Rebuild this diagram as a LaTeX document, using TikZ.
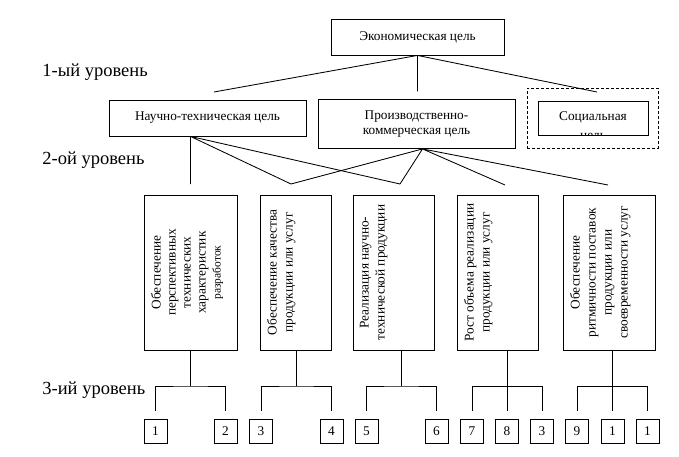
\documentclass[tikz,border=0pt]{standalone}
\usepackage{fontspec}
\setmainfont{Liberation Serif}
\usetikzlibrary{calc}

\newcommand{\boxfont}{\fontsize{13.3}{15}\selectfont}
\newcommand{\levelfont}{\fontsize{18.5}{22}\selectfont}

\tikzset{
  goal/.style={draw, inner sep=2pt, align=center, font=\boxfont},
  task/.style={draw, minimum height=155},
  vlabel/.style={rotate=90, anchor=north, align=center, inner sep=3pt, font=\fontsize{13.3}{16}\selectfont},
  num/.style={draw, minimum width=23, minimum height=24, inner sep=0pt, font=\boxfont},
  level/.style={anchor=west, inner sep=0pt, font=\levelfont}
}

\begin{document}
\begin{tikzpicture}[x=1pt, y=-1pt, line width=0.85pt]
  \useasboundingbox (0,0) rectangle (679,457);
  % Levels
  \node[level] (lev1) at (42,72) {1-ый уровень};
  \node[level] (lev2) at (42,160) {2-ой уровень};
  \node[level] (lev3) at (42,390) {3-ий уровень};
  % Main goal and goals of the first level
  \node[goal, minimum width=173, minimum height=36] (econ) at (417.5,37) {Экономическая цель};
  \node[goal, minimum width=197, minimum height=36] (sci) at (207.5,118) {Научно-техническая цель};
  \node[goal, minimum width=197, minimum height=49] (prod) at (416.5,124) {Производственно-\\коммерческая цель};
  \node[draw, dash pattern=on 3pt off 2pt, minimum width=131, minimum height=60] (socframe) at (592.5,118) {};
  \node[goal, minimum width=110, minimum height=34] (soc) at (593,118) {};
  \begin{scope}
    \clip (soc.north west) rectangle (soc.south east);
    \node[align=center, font=\fontsize{13.3}{19}\selectfont] (soctext) at (593,127) {Социальная\\цель};
  \end{scope}
  % Goals of the second level
  \node[task, minimum width=93] (g1) at (190.5,272.5) {};
  \node[task, minimum width=71] (g2) at (295.5,272.5) {};
  \node[task, minimum width=81] (g3) at (393.5,272.5) {};
  \node[task, minimum width=81] (g4) at (497.5,272.5) {};
  \node[task, minimum width=92] (g5) at (609,272.5) {};
  \node[vlabel, font=\fontsize{13.3}{15}\selectfont] (t1) at ([xshift=4]g1.west)
    {Обеспечение\\перспективных\\технических\\характеристик\\{\fontsize{11.5}{13}\selectfont разработок}};
  \node[vlabel] (t2) at ([xshift=4]g2.west) {Обеспечение качества\\продукции или услуг};
  \node[vlabel] (t3) at ([xshift=4]g3.west) {Реализация научно-\\технической продукции};
  \node[vlabel] (t4) at ([xshift=4]g4.west) {Рост объема реализации\\продукции или услуг};
  \node[vlabel] (t5) at ([xshift=4]g5.west) {Обеспечение\\ритмичности поставок\\продукции или\\своевременности услуг};
  % Tasks of the third level
  \node[num] (n1) at (155.5,431) {1};
  \node[num] (n2) at (225.5,431) {2};
  \node[num] (n3) at (261,431) {3};
  \node[num] (n4) at (331.5,431) {4};
  \node[num] (n5) at (366.5,431) {5};
  \node[num] (n6) at (436.5,431) {6};
  \node[num] (n7) at (472,431) {7};
  \node[num] (n8) at (507,431) {8};
  \node[num] (n9) at (542,431) {3};
  \node[num] (n10) at (577,431) {9};
  \node[num] (n11) at (612.5,431) {1};
  \node[num] (n12) at (647.5,431) {1};
  % Connections from the main goal
  \coordinate (e-sci) at (214,92);
  \coordinate (e-soc) at (597,92);
  \draw (econ.south) -- (e-sci)
    (econ.south) -- ++(0,36) coordinate (e-prod)
    (econ.south) -- (e-soc);
  % Connections to the second level
  \coordinate (row) at (0,184);
  \coordinate (sci-o) at (g1.north |- sci.south);
  \coordinate (prod-o) at ([xshift=6]prod.south);
  \coordinate (e1) at (g1.north |- row);
  \coordinate (e2) at (291,184);
  \coordinate (e3) at (400,184);
  \coordinate (e4) at (505,185);
  \coordinate (e5) at (608,185);
  \draw (sci-o) -- (e1) (sci-o) -- (e2) (sci-o) -- (e3);
  \draw (prod-o) -- (e2) (prod-o) -- (e3) (prod-o) -- (e4) (prod-o) -- (e5);
  % Brackets of the third level
  \coordinate (br) at (0,386);
  \coordinate (m1) at ($(n1.north)!.5!(n2.north)$);
  \coordinate (m2) at ($(n3.north)!.5!(n4.north)$);
  \coordinate (m3) at ($(n5.north)!.5!(n6.north)$);
  \draw ([yshift=8]n1.north) |- (m1 |- br) -| ([yshift=8]n2.north);
  \draw (m1 |- br) -- (m1 |- g1.south);
  \draw ([yshift=8]n3.north) |- (m2 |- br) -| ([yshift=8]n4.north);
  \draw (m2 |- br) -- (m2 |- g2.south);
  \draw ([yshift=8]n5.north) |- (m3 |- br) -| ([yshift=8]n6.north);
  \draw (m3 |- br) -- (m3 |- g3.south);
  \draw ([yshift=8]n7.north) |- (n9.north |- br) -- ([yshift=8]n9.north);
  \draw ([yshift=8]n8.north) -- (n8.north |- g4.south);
  \draw ([yshift=8]n10.north) |- (n12.north |- br) -- ([yshift=8]n12.north);
  \draw ([yshift=8]n11.north) -- (n11.north |- g5.south);
\end{tikzpicture}
\end{document}
